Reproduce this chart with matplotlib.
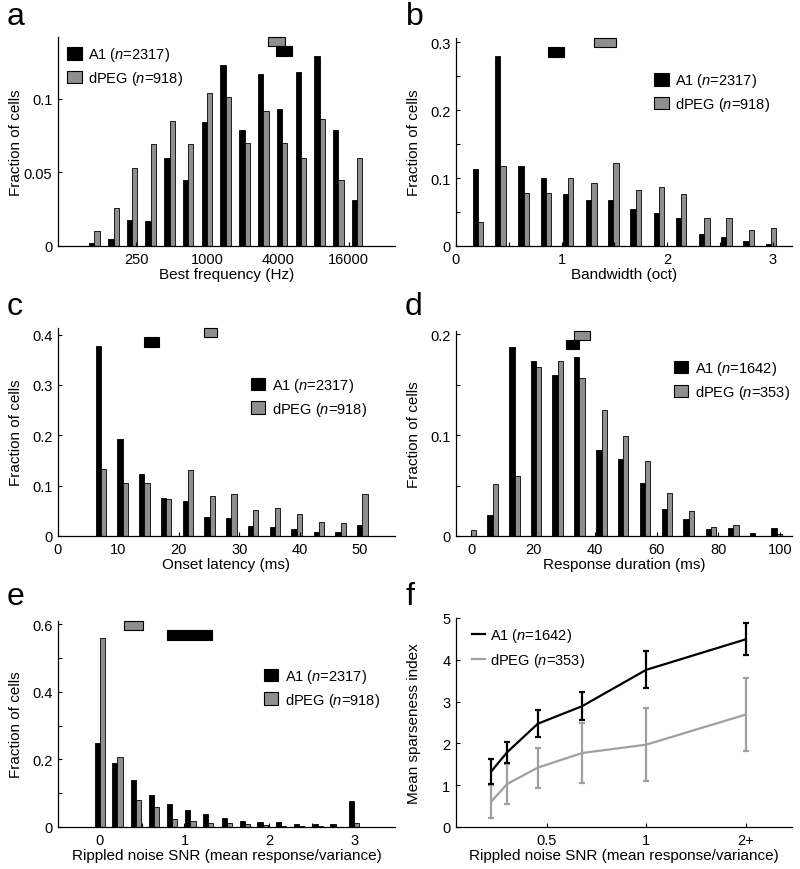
import numpy as np
import matplotlib
matplotlib.use('Agg')
import matplotlib.pyplot as plt
from matplotlib.patches import Patch, Rectangle
from matplotlib.lines import Line2D
from matplotlib.ticker import FuncFormatter, NullLocator

plt.rcParams['font.family'] = ['Liberation Sans', 'DejaVu Sans']
plt.rcParams['mathtext.fontset'] = 'custom'
plt.rcParams['mathtext.rm'] = 'Liberation Sans'
plt.rcParams['mathtext.it'] = 'Liberation Sans:italic'

GRAY = '#8f8f8f'
LINE_GRAY = '#a0a0a0'
FS = 10.5

# a: best frequency (bin centres in Hz)
bf_hz = [110, 160, 230, 330, 480, 690, 1000, 1440, 2090, 3010, 4350, 6280, 9060, 13100, 18900]
bf_a1 = [0.002, 0.005, 0.018, 0.017, 0.060, 0.045, 0.084, 0.123, 0.079, 0.117, 0.093, 0.118, 0.129, 0.079, 0.031]
bf_dpeg = [0.010, 0.026, 0.053, 0.069, 0.085, 0.069, 0.104, 0.101, 0.070, 0.092, 0.070, 0.060, 0.086, 0.045, 0.060]
bf_ci_a1 = (3850, 5330)
bf_ci_dpeg = (3300, 4640)
bf_ticks = [250, 1000, 4000, 16000]

# b: bandwidth (oct)
bw_oct = [0.21, 0.42, 0.64, 0.85, 1.06, 1.28, 1.49, 1.70, 1.92, 2.13, 2.35, 2.56, 2.77, 2.98]
bw_a1 = [0.113, 0.279, 0.117, 0.100, 0.077, 0.067, 0.068, 0.054, 0.048, 0.041, 0.017, 0.013, 0.008, 0.003]
bw_dpeg = [0.036, 0.118, 0.078, 0.078, 0.100, 0.093, 0.122, 0.083, 0.087, 0.076, 0.041, 0.041, 0.024, 0.027]
bw_ci_a1 = (0.87, 1.02)
bw_ci_dpeg = (1.31, 1.51)

# c: onset latency (ms)
lat_ms = [7.1, 10.7, 14.3, 17.9, 21.5, 25.1, 28.7, 32.3, 35.9, 39.5, 43.2, 46.8, 50.4]
lat_a1 = [0.377, 0.193, 0.124, 0.075, 0.070, 0.037, 0.035, 0.019, 0.017, 0.014, 0.007, 0.007, 0.021]
lat_dpeg = [0.134, 0.105, 0.106, 0.073, 0.132, 0.080, 0.083, 0.051, 0.056, 0.044, 0.028, 0.026, 0.083]
lat_ci_a1 = (14.2, 16.7)
lat_ci_dpeg = (24.1, 26.4)

# d: response duration (ms)
dur_ms = [0, 7.0, 14.1, 21.0, 28.0, 35.0, 42.2, 49.1, 56.2, 63.4, 70.4, 77.6, 84.8, 91.8, 98.8]
dur_a1 = [0.0, 0.021, 0.187, 0.173, 0.159, 0.177, 0.085, 0.076, 0.052, 0.027, 0.017, 0.007, 0.008, 0.003, 0.008]
dur_dpeg = [0.006, 0.051, 0.059, 0.167, 0.173, 0.156, 0.125, 0.099, 0.074, 0.043, 0.025, 0.009, 0.011, 0.0, 0.002]
dur_ci_a1 = (30.7, 35.0)
dur_ci_dpeg = (33.4, 38.5)

# e: rippled noise SNR
snr = [0, 0.21, 0.43, 0.64, 0.85, 1.07, 1.28, 1.50, 1.71, 1.92, 2.14, 2.35, 2.57, 2.78, 3.0]
snr_a1 = [0.249, 0.189, 0.138, 0.096, 0.068, 0.049, 0.038, 0.028, 0.019, 0.016, 0.014, 0.010, 0.009, 0.008, 0.076]
snr_dpeg = [0.560, 0.206, 0.080, 0.059, 0.025, 0.019, 0.011, 0.011, 0.009, 0.006, 0.004, 0.003, 0.003, 0.001, 0.012]
snr_ci_a1 = (0.795, 1.32)
snr_ci_dpeg = (0.287, 0.512)

# f: mean sparseness vs SNR
snr_bins = [0.34, 0.38, 0.47, 0.64, 1.0, 2.0]
snr_ticks = [0.5, 1, 2]
snr_ticklabels = ['0.5', '1', '2+']
sp_a1 = [1.33, 1.79, 2.47, 2.89, 3.76, 4.49]
sp_a1_err = [0.30, 0.25, 0.32, 0.34, 0.44, 0.38]
sp_dpeg = [0.61, 1.03, 1.42, 1.77, 1.97, 2.69]
sp_dpeg_err = [0.40, 0.47, 0.48, 0.71, 0.88, 0.87]

W, H = 800, 870
fig = plt.figure(figsize=(W / 100, H / 100), dpi=100)


def add_ax(l, t, r, b):
    return fig.add_axes([l / W, 1 - b / H, (r - l) / W, (b - t) / H])


def style(ax, ylabel, xlabel):
    for s in ['top', 'right']:
        ax.spines[s].set_visible(False)
    for s in ['left', 'bottom']:
        ax.spines[s].set_linewidth(0.9)
    ax.tick_params(which='both', direction='in', length=3, width=0.8,
                   labelsize=FS, pad=4)
    ax.yaxis.set_major_formatter(FuncFormatter(lambda v, p: '%g' % v))
    ax.set_ylabel(ylabel, fontsize=FS + 0.5, va='bottom')
    ax.set_xlabel(xlabel, fontsize=FS + 0.5, va='top')
    ax.yaxis.set_label_coords(-0.105, 0.5)
    ax.xaxis.set_label_coords(0.5, -0.1)


def hist_panel(ax, x, a1, dpeg, w, ci_a1, ci_dpeg, n_a1, n_dpeg, loc, anchor):
    x = np.asarray(x, dtype=float)
    ax.bar(x - w / 2, a1, w, color='black', edgecolor='black', linewidth=0.6)
    ax.bar(x + w / 2, dpeg, w, color=GRAY, edgecolor='black', linewidth=0.6)
    trans = ax.get_xaxis_transform()
    ax.add_patch(Rectangle((ci_dpeg[0], 0.955), ci_dpeg[1] - ci_dpeg[0], 0.045,
                           transform=trans, fc=GRAY, ec='black', lw=0.8, clip_on=False))
    ax.add_patch(Rectangle((ci_a1[0], 0.91), ci_a1[1] - ci_a1[0], 0.045,
                           transform=trans, fc='black', ec='black', lw=0.8, clip_on=False))
    handles = [Patch(fc='black', ec='black', lw=0.8),
               Patch(fc=GRAY, ec='black', lw=0.8)]
    labels = ['A1 ($\\it{n}$=%d)' % n_a1, 'dPEG ($\\it{n}$=%d)' % n_dpeg]
    ax.legend(handles, labels, loc=loc, bbox_to_anchor=anchor, frameon=False,
              fontsize=FS, handlelength=1.0, handleheight=0.95, handletextpad=0.45,
              labelspacing=0.4, borderaxespad=0, borderpad=0)


# panel a
ax = add_ax(58, 38, 395, 247)
hist_panel(ax, np.log2(bf_hz), bf_a1, bf_dpeg, 0.15, np.log2(bf_ci_a1), np.log2(bf_ci_dpeg),
           2317, 918, 'upper left', (0.027, 0.96))
ax.set_xlim(5.75, 15.28)
ax.set_ylim(0, 0.142)
ax.set_xticks(np.log2(bf_ticks))
ax.set_xticklabels([str(t) for t in bf_ticks])
ax.set_yticks([0, 0.05, 0.1])
style(ax, 'Fraction of cells', 'Best frequency (Hz)')

# panel b
ax = add_ax(456, 39, 792, 247)
hist_panel(ax, bw_oct, bw_a1, bw_dpeg, 0.05, bw_ci_a1, bw_ci_dpeg,
           2317, 918, 'upper right', (0.935, 0.84))
ax.set_xlim(0, 3.18)
ax.set_ylim(0, 0.306)
ax.set_xticks([0, 1, 2, 3])
ax.set_xticks([0.5, 1.5, 2.5], minor=True)
ax.set_yticks([0, 0.1, 0.2, 0.3])
ax.set_yticks([0.05, 0.15, 0.25], minor=True)
style(ax, 'Fraction of cells', 'Bandwidth (oct)')

# panel c
ax = add_ax(58, 329, 395, 537)
hist_panel(ax, lat_ms, lat_a1, lat_dpeg, 0.88, lat_ci_a1, lat_ci_dpeg,
           2317, 918, 'upper right', (0.917, 0.77))
ax.set_xlim(0, 55.8)
ax.set_ylim(0, 0.413)
ax.set_xticks([0, 10, 20, 30, 40, 50])
ax.set_yticks([0, 0.1, 0.2, 0.3, 0.4])
style(ax, 'Fraction of cells', 'Onset latency (ms)')

# panel d
ax = add_ax(456, 332, 792, 537)
hist_panel(ax, dur_ms, dur_a1, dur_dpeg, 1.73, dur_ci_a1, dur_ci_dpeg,
           1642, 353, 'upper right', (0.994, 0.863))
ax.set_xlim(-4.9, 103.8)
ax.set_ylim(0, 0.203)
ax.set_xticks([0, 20, 40, 60, 80, 100])
ax.set_yticks([0, 0.1, 0.2])
ax.set_yticks([0.05, 0.15], minor=True)
style(ax, 'Fraction of cells', 'Response duration (ms)')

# panel e
ax = add_ax(58, 622, 395, 828)
hist_panel(ax, snr, snr_a1, snr_dpeg, 0.06, snr_ci_a1, snr_ci_dpeg,
           2317, 918, 'upper right', (0.955, 0.777))
ax.set_xlim(-0.49, 3.48)
ax.set_ylim(0, 0.609)
ax.set_xticks([0, 1, 2, 3])
ax.set_xticks([0.5, 1.5, 2.5], minor=True)
ax.set_yticks([0, 0.2, 0.4, 0.6])
ax.set_yticks([0.1, 0.3, 0.5], minor=True)
style(ax, 'Fraction of cells', 'Rippled noise SNR (mean response/variance)')

# panel f
ax = add_ax(456, 619, 792, 828)
ax.set_xscale('log', base=2)
ax.errorbar(snr_bins, sp_dpeg, yerr=sp_dpeg_err, color=LINE_GRAY, lw=1.6,
            elinewidth=1.6, capsize=2.5, capthick=1.6)
ax.errorbar(snr_bins, sp_a1, yerr=sp_a1_err, color='black', lw=1.6,
            elinewidth=1.6, capsize=2.5, capthick=1.6)
ax.set_xlim(0.266, 2.76)
ax.set_ylim(0, 5)
ax.set_xticks(snr_ticks)
ax.set_xticklabels(snr_ticklabels)
ax.xaxis.set_minor_locator(NullLocator())
ax.set_yticks([0, 1, 2, 3, 4, 5])
style(ax, 'Mean sparseness index', 'Rippled noise SNR (mean response/variance)')
ax.legend([Line2D([], [], color='black', lw=1.6), Line2D([], [], color=LINE_GRAY, lw=1.6)],
          ['A1 ($\\it{n}$=1642)', 'dPEG ($\\it{n}$=353)'],
          loc='upper left', bbox_to_anchor=(0.048, 0.96), frameon=False, fontsize=FS,
          handlelength=0.9, handletextpad=0.35, labelspacing=0.45,
          borderaxespad=0, borderpad=0)

# panel letters
for letter, px, py in [('a', 7, 25), ('b', 406, 25), ('c', 7, 315),
                       ('d', 405, 315), ('e', 7, 605), ('f', 405, 605)]:
    fig.text(px / W, 1 - py / H, letter, fontsize=23, va='baseline', ha='left')

fig.savefig('out.png', dpi=100)
